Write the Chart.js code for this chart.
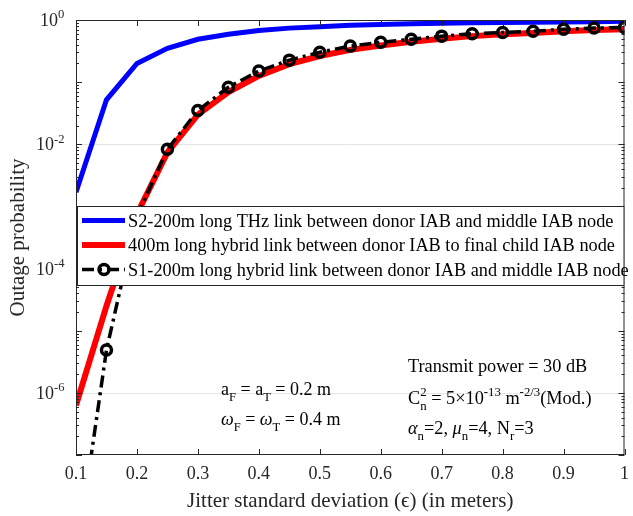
<!DOCTYPE html>
<html>
<head>
<meta charset="utf-8">
<script src="https://cdn.jsdelivr.net/npm/chart.js@4.4.1/dist/chart.umd.min.js"></script>
<style>
html, body { margin: 0; padding: 0; background: #fff; }
</style>
</head>
<body>
<canvas id="outageChart" width="633" height="516"></canvas>
<script>
// jitter std (m) and outage probability
const jitter = [0.1, 0.15, 0.2, 0.25, 0.3, 0.35, 0.4, 0.45, 0.5, 0.55, 0.6, 0.65, 0.7, 0.75, 0.8, 0.85, 0.9, 0.95, 1.0];
const thzS2 = [1.7e-3, 0.052, 0.20, 0.35, 0.49, 0.59, 0.68, 0.74, 0.78, 0.82, 0.85, 0.87, 0.89, 0.90, 0.91, 0.92, 0.93, 0.94, 0.955];
const hybrid400 = [6.3e-7, 2.5e-5, 7.5e-4, 7.4e-3, 0.030, 0.069, 0.126, 0.195, 0.263, 0.331, 0.389, 0.447, 0.501, 0.550, 0.589, 0.617, 0.661, 0.692, 0.708];
const hybridS1 = [2e-9, 4.9e-6, 7.0e-4, 8.3e-3, 0.035, 0.083, 0.151, 0.226, 0.302, 0.380, 0.437, 0.490, 0.550, 0.603, 0.631, 0.661, 0.708, 0.741, 0.759];

const seriesNames = [
    'S2-200m long THz link between donor IAB and middle IAB node',
    '400m long hybrid link between donor IAB to final child IAB node',
    'S1-200m long hybrid link between donor IAB and middle IAB node'
];

const xTicks = [0.1, 0.2, 0.3, 0.4, 0.5, 0.6, 0.7, 0.8, 0.9, 1];
const yLabelExps = [0, -2, -4, -6];
const yDecades = [0, -1, -2, -3, -4, -5, -6, -7];

const serif = '"Liberation Serif", "Times New Roman", serif';
const axisColor = '#262626';

function toPoints(ys) {
    return jitter.map((x, i) => ({ x: x, y: ys[i] }));
}

// text with sub/superscripts: parts = [text, mode, keepX]
function drawRich(ctx, x, y, parts, size) {
    let cx = x;
    parts.forEach(([t, m, keep]) => {
        let s = size, dy = 0, style = '';
        if (m === 'sub') { s = size * 0.7; dy = size * 0.35; }
        if (m === 'sup') { s = size * 0.7; dy = -size * 0.42; }
        if (m === 'it') { style = 'italic '; }
        ctx.font = `${style}${s}px ${serif}`;
        ctx.fillText(t, cx, y + dy);
        if (!keep) cx += ctx.measureText(t).width;
    });
}

const framePlugin = {
    id: 'framePlugin',
    beforeDatasetsDraw(chart) {
        const { ctx, chartArea: a, scales: { y } } = chart;
        ctx.save();
        ctx.strokeStyle = '#e4e4e4';
        ctx.lineWidth = 1;
        yLabelExps.forEach(e => {
            const py = Math.round(y.getPixelForValue(Math.pow(10, e))) + 0.5;
            if (py > a.top + 2) {
                ctx.beginPath();
                ctx.moveTo(a.left, py);
                ctx.lineTo(a.right, py);
                ctx.stroke();
            }
        });
        ctx.restore();
    },
    afterDatasetsDraw(chart) {
        const { ctx, chartArea: a, scales: { x, y } } = chart;
        ctx.save();

        // axes box and inward ticks
        ctx.strokeStyle = axisColor;
        ctx.lineWidth = 1;
        ctx.strokeRect(a.left + 0.5, a.top + 0.5, a.right - a.left - 1, a.bottom - a.top - 1);
        ctx.beginPath();
        xTicks.forEach(v => {
            const px = Math.round(x.getPixelForValue(v)) + 0.5;
            ctx.moveTo(px, a.bottom); ctx.lineTo(px, a.bottom - 6);
            ctx.moveTo(px, a.top); ctx.lineTo(px, a.top + 6);
        });
        yDecades.forEach(e => {
            const py = Math.round(y.getPixelForValue(Math.pow(10, e))) + 0.5;
            ctx.moveTo(a.left, py); ctx.lineTo(a.left + 6, py);
            ctx.moveTo(a.right, py); ctx.lineTo(a.right - 6, py);
            if (e > -7) {
                for (let k = 2; k <= 9; k++) {
                    const pm = Math.round(y.getPixelForValue(k * Math.pow(10, e - 1))) + 0.5;
                    ctx.moveTo(a.left, pm); ctx.lineTo(a.left + 3, pm);
                    ctx.moveTo(a.right, pm); ctx.lineTo(a.right - 3, pm);
                }
            }
        });
        ctx.stroke();

        // tick labels
        ctx.fillStyle = axisColor;
        ctx.textBaseline = 'alphabetic';
        ctx.font = `18px ${serif}`;
        ctx.textAlign = 'center';
        xTicks.forEach(v => {
            ctx.fillText(String(parseFloat(v.toFixed(1))), x.getPixelForValue(v), a.bottom + 24);
        });
        ctx.textAlign = 'left';
        yLabelExps.forEach(e => {
            const py = y.getPixelForValue(Math.pow(10, e));
            ctx.font = `18px ${serif}`;
            const w1 = ctx.measureText('10').width;
            ctx.font = `12px ${serif}`;
            const w2 = ctx.measureText(String(e)).width;
            const x0 = a.left - 12 - w1 - w2;
            drawRich(ctx, x0, py + 6, [['10'], [String(e), 'sup']], 18);
        });

        // axis titles
        ctx.font = `21px ${serif}`;
        ctx.textAlign = 'center';
        ctx.fillText('Jitter standard deviation (\u03f5) (in meters)', (a.left + a.right) / 2, a.bottom + 52);
        ctx.save();
        ctx.translate(24, (a.top + a.bottom) / 2);
        ctx.rotate(-Math.PI / 2);
        ctx.fillText('Outage probability', 0, 0);
        ctx.restore();

        // legend box
        const lx = a.left + 1, ly = 206, lw = a.right - a.left - 1, lh = 80;
        ctx.fillStyle = '#fff';
        ctx.fillRect(lx, ly, lw, lh);
        ctx.strokeStyle = axisColor;
        ctx.strokeRect(lx + 0.5, ly + 0.5, lw - 1, lh - 1);
        chart.data.datasets.forEach((ds, i) => {
            const ry = ly + 14.5 + i * 24.5;
            ctx.save();
            ctx.strokeStyle = ds.borderColor;
            ctx.lineWidth = ds.borderWidth;
            ctx.setLineDash(ds.borderDash || []);
            ctx.beginPath();
            ctx.moveTo(lx + 5, ry); ctx.lineTo(lx + 48, ry);
            ctx.stroke();
            if (ds.pointRadius) {
                ctx.setLineDash([]);
                ctx.lineWidth = ds.pointBorderWidth;
                ctx.strokeStyle = ds.pointBorderColor;
                ctx.beginPath();
                ctx.arc(lx + 27, ry, ds.pointRadius, 0, Math.PI * 2);
                ctx.stroke();
            }
            ctx.restore();
            ctx.fillStyle = '#000';
            ctx.font = `18.3px ${serif}`;
            ctx.textAlign = 'left';
            ctx.fillText(ds.label, lx + 51, ry + 6);
        });

        // parameter annotations
        ctx.fillStyle = '#000';
        ctx.textAlign = 'left';
        drawRich(ctx, 221, 395, [['a'], ['F', 'sub'], [' = a'], ['T', 'sub'], [' = 0.2 m']], 18);
        drawRich(ctx, 221, 425, [['\u03c9', 'it'], ['F', 'sub'], [' = '], ['\u03c9', 'it'], ['T', 'sub'], [' = 0.4 m']], 18);
        drawRich(ctx, 408, 372, [['Transmit power = 30 dB']], 18.3);
        drawRich(ctx, 408, 404, [['C'], ['2', 'sup', true], ['n', 'sub'], [' = 5\u00d710'], ['-13', 'sup'], [' m'], ['-2/3', 'sup'], ['(Mod.)']], 18.3);
        drawRich(ctx, 408, 434, [['\u03b1', 'it'], ['n', 'sub'], ['=2, '], ['\u03bc', 'it'], ['n', 'sub'], ['=4, N'], ['r', 'sub'], ['=3']], 18.3);

        ctx.restore();
    }
};

const ctx = document.getElementById('outageChart').getContext('2d');
const outageChart = new Chart(ctx, {
    type: 'line',
    data: {
        datasets: [{
            label: seriesNames[0],
            data: toPoints(thzS2),
            borderColor: '#0000ff',
            borderWidth: 5,
            pointRadius: 0,
            order: 2
        }, {
            label: seriesNames[1],
            data: toPoints(hybrid400),
            borderColor: '#ff0000',
            borderWidth: 6,
            pointRadius: 0,
            order: 1
        }, {
            label: seriesNames[2],
            data: toPoints(hybridS1),
            borderColor: '#000000',
            borderWidth: 3.5,
            borderDash: [12, 5, 3, 5],
            pointRadius: 5,
            pointBorderWidth: 3.5,
            pointBorderColor: '#000000',
            pointBackgroundColor: 'rgba(0,0,0,0)',
            order: 0
        }]
    },
    options: {
        responsive: false,
        animation: false,
        layout: {
            padding: { left: 76, right: 3, top: 20, bottom: 61 }
        },
        scales: {
            x: { type: 'linear', min: 0.1, max: 1, display: false },
            y: { type: 'logarithmic', min: 1e-7, max: 1, display: false }
        },
        plugins: {
            legend: { display: false },
            tooltip: { enabled: false }
        }
    },
    plugins: [framePlugin]
});
</script>
</body>
</html>
